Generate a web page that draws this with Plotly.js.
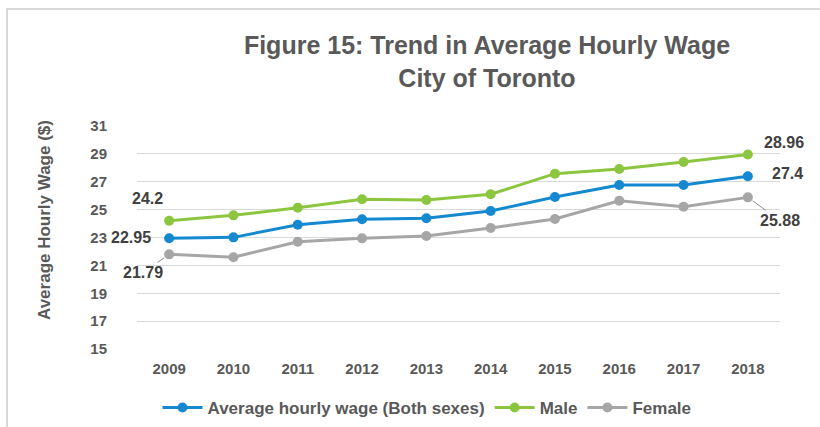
<!DOCTYPE html>
<html>
<head>
<meta charset="utf-8">
<script src="https://cdn.plot.ly/plotly-3.0.1.min.js"></script>
<style>html,body{margin:0;padding:0;background:#fff;}#chart{width:820px;height:427px;}</style>
</head>
<body>
<div id="chart"></div>
<script>
const years = ['2009','2010','2011','2012','2013','2014','2015','2016','2017','2018'];
const bothSexes = [22.95, 23.01, 23.92, 24.31, 24.38, 24.90, 25.91, 26.77, 26.77, 27.40];
const male = [24.20, 24.59, 25.14, 25.74, 25.69, 26.10, 27.58, 27.92, 28.42, 28.96];
const female = [21.79, 21.58, 22.70, 22.94, 23.11, 23.68, 24.33, 25.64, 25.21, 25.88];
const yTicks = [15, 17, 19, 21, 23, 25, 27, 29, 31];

const FONT = 'Liberation Sans, Arial, sans-serif';
const TXT = '#595959';
const colors = {both: '#1589D0', male: '#8CC63F', female: '#A6A6A6'};

function trace(name, y, color) {
  return {
    type: 'scatter', mode: 'lines+markers', name: name,
    x: years, y: y,
    line: {color: color, width: 3},
    marker: {color: color, size: 10},
    hoverinfo: 'skip'
  };
}

const data = [
  trace('Average hourly wage (Both sexes)', bothSexes, colors.both),
  trace('Male', male, colors.male),
  trace('Female', female, colors.female)
];

function lab(series, idx, ax, ay, arrow) {
  return {
    x: idx, y: series[idx], xref: 'x', yref: 'y',
    text: String(series[idx]),
    showarrow: true, arrowhead: 0, arrowwidth: 1,
    arrowcolor: arrow ? '#8c8c8c' : 'rgba(0,0,0,0)',
    standoff: 6,
    ax: ax, ay: ay,
    font: {family: FONT, size: 16, color: '#404040', weight: 'bold'}
  };
}
const last = years.length - 1;
const annotations = [
  lab(male, 0, -22, -22, false),
  lab(bothSexes, 0, -38, -1, false),
  lab(female, 0, -26, 18, true),
  lab(male, last, 36, -12, false),
  lab(bothSexes, last, 40, -3, false),
  lab(female, last, 32, 23, true),
  {
    text: 'Average Hourly Wage ($)', textangle: -90,
    xref: 'paper', yref: 'paper',
    x: (44 - 137) / 643, y: (349 - 220) / 223,
    xanchor: 'center', yanchor: 'middle', showarrow: false,
    font: {family: FONT, size: 17, color: TXT, weight: 'bold'}
  }
];

const layout = {
  width: 820, height: 427,
  margin: {l: 137, r: 40, t: 126, b: 78, autoexpand: false},
  paper_bgcolor: '#fff', plot_bgcolor: '#fff',
  font: {family: FONT, color: TXT},
  title: {
    text: 'Figure 15: Trend in Average Hourly Wage<br>City of Toronto',
    x: 487 / 820, xanchor: 'center', xref: 'container',
    y: 1 - 54 / 427, yanchor: 'top', yref: 'container',
    font: {family: FONT, size: 25, color: TXT, weight: 'bold'}
  },
  xaxis: {
    type: 'category', range: [-0.5, years.length - 0.5],
    showgrid: false, zeroline: false, showline: false,
    ticks: 'outside', ticklen: 6, tickcolor: 'rgba(0,0,0,0)',
    tickfont: {family: FONT, size: 15, color: TXT, weight: 'bold'},
    fixedrange: true
  },
  yaxis: {
    range: [15, 31],
    tickvals: yTicks, ticktext: yTicks.map(String),
    showgrid: true, gridcolor: '#d9d9d9', gridwidth: 1,
    zeroline: false, showline: false,
    ticks: 'outside', ticklen: 26, tickcolor: 'rgba(0,0,0,0)',
    tickfont: {family: FONT, size: 15, color: TXT, weight: 'bold'},
    fixedrange: true
  },
  legend: {
    orientation: 'h', x: (427 - 137) / 643, xanchor: 'center',
    y: (349 - 408) / 223, yanchor: 'middle',
    font: {family: FONT, size: 17, color: TXT, weight: 'bold'},
    itemwidth: 40, tracegroupgap: 0
  },
  annotations: annotations,
  shapes: [{
    type: 'rect', xref: 'paper', yref: 'paper',
    x0: (7 - 137) / 643, x1: (835 - 137) / 643,
    y0: (349 - 440) / 223, y1: (349 - 9) / 223,
    line: {color: '#d9d9d9', width: 2}, fillcolor: 'rgba(0,0,0,0)', layer: 'below'
  }],
  showlegend: true
};

Plotly.newPlot('chart', data, layout, {displayModeBar: false, staticPlot: true});
</script>
</body>
</html>
